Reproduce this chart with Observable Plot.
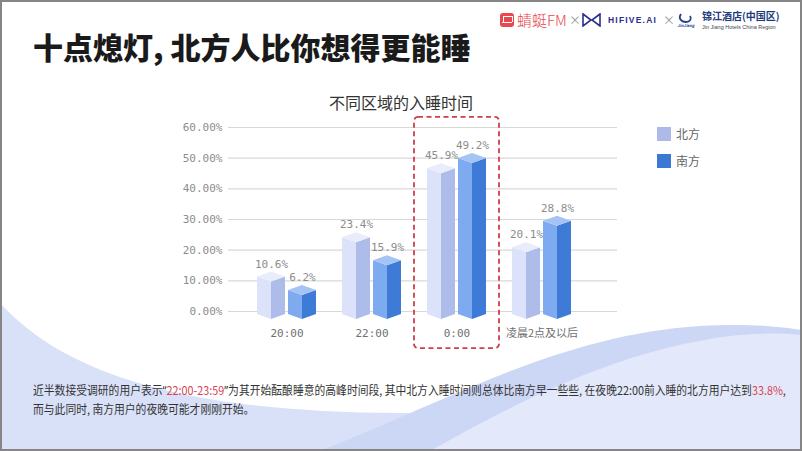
<!DOCTYPE html>
<html><head><meta charset="utf-8">
<script src="https://cdn.jsdelivr.net/npm/d3@7"></script>
<script src="https://cdn.jsdelivr.net/npm/@observablehq/plot@0.6"></script>
<style>
body{margin:0;background:#fff;}
#page{position:relative;width:802px;height:451px;overflow:hidden;background:#fff;font-family:"Noto Sans CJK SC","Noto Sans",sans-serif;}
.abs{position:absolute;white-space:nowrap;}
#title{left:33px;top:29px;font-size:30px;line-height:34px;font-weight:900;color:#1a1a1a;}
#ctitle{left:0;width:802px;text-align:center;top:92px;font-size:16px;line-height:20px;color:#333;}
#chart{position:absolute;left:0;top:85px;}
.leg{position:absolute;width:14px;height:14px;}
.legt{font-size:12px;line-height:14px;color:#666;}
#foot{left:33px;top:381px;font-size:12px;line-height:18px;color:#333;transform:scaleX(0.9);transform-origin:0 0;}
#foot .r{color:#d9434f;}
#foot .q{font-family:"Noto Sans",sans-serif;}
#frame{position:absolute;left:0;top:0;width:802px;height:451px;box-sizing:border-box;border:2px solid #858585;pointer-events:none;}
</style></head><body>
<div id="page">
<svg width="802" height="451" style="position:absolute;left:0;top:0">
  <path d="M0,303 C70,380 200,412 400,413 C560,414 700,420 802,430 L802,451 L0,451 Z" fill="#d9e1f9"/>
  <path d="M320,451 C450,400 560,335 700,326 C750,323 785,327 802,330 L802,451 Z" fill="#ccd7f6"/>
  <path d="M430,451 C520,400 620,350 730,336 C765,332 790,334 802,335 L802,451 Z" fill="#e3e9fb"/>
</svg>
<div class="abs" id="title">十点熄灯, 北方人比你想得更能睡</div>

<div class="abs" style="left:500px;top:13px;width:14px;height:14px;background:#e8474c;border-radius:3px;"></div>
<div class="abs" style="left:503px;top:16px;width:8px;height:5px;border:1px solid #fff;border-bottom:none;"></div>
<div class="abs" style="left:502px;top:22px;width:10px;height:1px;background:#fff;"></div>
<div class="abs" style="left:517px;top:10px;font-size:15px;line-height:20px;color:#e8474c;font-weight:300;">蜻蜓FM</div>
<div class="abs" style="left:569px;top:12px;font-size:12px;line-height:16px;color:#999;">×</div>
<svg class="abs" style="left:582px;top:13px" width="19" height="14"><path d="M1,1 L9,7 L1,13 Z M18,1 L10,7 L18,13 Z" fill="none" stroke="#2b2f8f" stroke-width="1.6"/></svg>
<div class="abs" style="left:608px;top:14px;font-size:8.5px;line-height:12px;font-weight:700;letter-spacing:1.2px;color:#2b2f8f;font-family:'Liberation Sans',sans-serif;">HIFIVE.AI</div>
<div class="abs" style="left:663px;top:12px;font-size:12px;line-height:16px;color:#999;">×</div>
<svg class="abs" style="left:677px;top:11px" width="18" height="18"><path d="M4,3 C1,7 4,11 9,11 C13,11 15,8 13,5" fill="none" stroke="#24408e" stroke-width="1.8"/><text x="9" y="15.5" font-size="4" text-anchor="middle" fill="#24408e" font-style="italic" font-weight="700">JinJiang</text></svg>
<div class="abs" style="left:702px;top:10px;font-size:10px;line-height:12px;font-weight:700;color:#22397c;">锦江酒店(中国区)</div>
<div class="abs" style="left:702px;top:24px;font-size:5.5px;line-height:6px;color:#445;font-family:'Liberation Sans',sans-serif;">Jin Jiang Hotels China Region</div>

<div class="abs" id="ctitle">不同区域的入睡时间</div>
<div id="chart"></div>

<div class="leg" style="left:657px;top:127px;background:#aebbe9;"></div>
<div class="abs legt" style="left:676px;top:127px;">北方</div>
<div class="leg" style="left:657px;top:154px;background:#3b78d4;"></div>
<div class="abs legt" style="left:676px;top:154px;">南方</div>

<div class="abs" id="foot">近半数接受调研的用户表示<span class="q">“</span><span class="r">22:00-23:59</span><span class="q">”</span>为其开始酝酿睡意的高峰时间段, 其中北方入睡时间则总体比南方早一些些, 在夜晚22:00前入睡的北方用户达到<span class="r">33.8%</span>,<br>而与此同时, 南方用户的夜晚可能才刚刚开始。</div>
<div id="frame"></div>
</div>
<script>
const categories = ["20:00", "22:00", "0:00", "凌晨2点及以后"];
const seriesNames = ["北方", "南方"];
const northValues = [10.6, 23.4, 45.9, 20.1];
const southValues = [6.2, 15.9, 49.2, 28.8];
const yTicks = [0, 10, 20, 30, 40, 50, 60];
const highlightCategory = "0:00";
const highlightExtent = [-12.1, 63.3];

const rows = categories.flatMap((c, i) => [
  {category: c, series: seriesNames[0], value: northValues[i]},
  {category: c, series: seriesNames[1], value: southValues[i]}
]);
const palette = {
  "北方": {left: "#dbe2f9", right: "#aebcea", top: "#e8ecfb"},
  "南方": {left: "#7eaaf0", right: "#3d7bd6", top: "#a5c3f4"}
};
const offsets = {"北方": -15.5, "南方": 15.5};

function prisms(index, scales, values, dimensions, context) {
  const x = scales.x, y = scales.y;
  let bw = typeof x.bandwidth === "function" ? x.bandwidth() : x.bandwidth;
  if (!bw) bw = x(categories[1]) - x(categories[0]);
  const g = d3.create("svg:g");
  const hw = 14, hh = 5;
  const yb = y(0) + 3;
  const poly = (pts, fill) => g.append("polygon").attr("points", pts.map(p => p.join(",")).join(" ")).attr("fill", fill);
  for (const r of rows) {
    const cx = x(r.category) + bw / 2 + offsets[r.series];
    const yt = y(r.value) - 2;
    const c = palette[r.series];
    poly([[cx - hw, yt], [cx, yt + hh], [cx, yb + hh], [cx - hw, yb]], c.left);
    poly([[cx, yt + hh], [cx + hw, yt], [cx + hw, yb], [cx, yb + hh]], c.right);
    poly([[cx - hw, yt], [cx, yt - hh], [cx + hw, yt], [cx, yt + hh]], c.top);
  }
  return g.node();
}

const mono = "DejaVu Sans Mono, monospace";
const labelMark = (s, dx) => Plot.text(rows.filter(d => d.series === s), {
  x: "category", y: "value", text: d => d.value.toFixed(1) + "%",
  dx, dy: -15, fontSize: 11, fill: "#8c8c8c", fontFamily: mono
});

const chart = Plot.plot({
  width: 802, height: 270,
  marginTop: 42, marginBottom: 44, marginLeft: 228, marginRight: 185,
  x: {domain: categories, padding: 0, insetLeft: 14, insetRight: 32, axis: null},
  y: {domain: [0, 60], axis: null},
  style: {background: "transparent", fontFamily: mono, overflow: "visible"},
  marks: [
    Plot.gridY(yTicks, {stroke: "#d8d8d8", strokeOpacity: 1, strokeWidth: 1.2}),
    Plot.axisY(yTicks, {tickSize: 0, tickPadding: 6, tickFormat: d => d.toFixed(2) + "%", fontSize: 11, fill: "#8c8c8c", label: null, fontFamily: mono}),
    Plot.axisX(categories.slice(0, 3), {tickSize: 0, tickPadding: 18, fontSize: 11, fill: "#6f6f6f", label: null, fontFamily: mono}),
    Plot.axisX(categories.slice(3), {tickSize: 0, tickPadding: 18, fontSize: 11, fill: "#6f6f6f", label: null, fontFamily: "Noto Sans CJK SC, sans-serif"}),
    prisms,
    labelMark("北方", -15.5),
    labelMark("南方", 15.5),
    Plot.barY([{category: highlightCategory, lo: highlightExtent[0], hi: highlightExtent[1]}], {
      x: "category", y1: "lo", y2: "hi", fill: "none", stroke: "#cf3d4c", strokeWidth: 1.8, strokeDasharray: "5,3.5", rx: 4
    })
  ]
});
document.getElementById("chart").appendChild(chart);
</script>
</body></html>
